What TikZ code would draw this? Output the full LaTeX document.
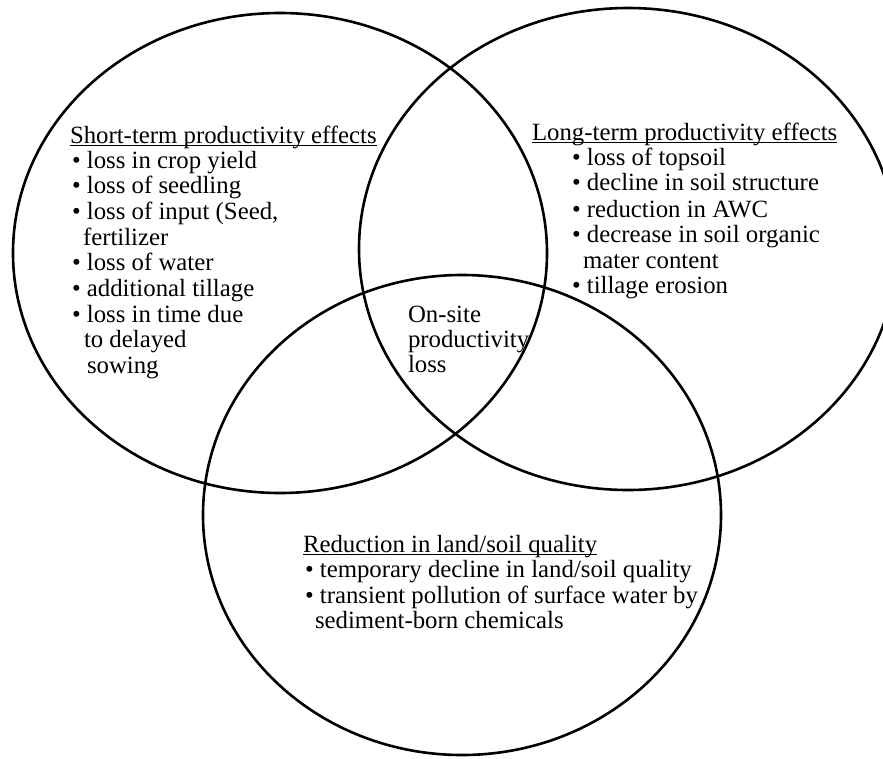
\documentclass[tikz,border=0pt]{standalone}
\usepackage{fontspec}
\setmainfont{Liberation Serif}
\begin{document}
\begin{tikzpicture}[x=1pt,y=-1pt,
  ring/.style={line width=2.6pt},
  txt/.style={anchor=base west,inner sep=0pt,outer sep=0pt,
    font=\fontsize{24.8}{25.6}\selectfont},
  uline/.style={line width=1.4pt}]
\useasboundingbox (0,0) rectangle (883,758);
\clip (0,0) rectangle (883,758);

% the three overlapping ellipses
\draw[ring] (280,253) ellipse [x radius=267pt, y radius=240pt];
\draw[ring] (628,249) ellipse [x radius=269pt, y radius=241pt];
\draw[ring] (462,515) ellipse [x radius=259pt, y radius=240pt];

% short-term effects (left)
\node[txt] (sh) at (70,143) {Short-term productivity effects};
\draw[uline] ([yshift=-2.6pt]sh.base west) -- ([yshift=-2.6pt]sh.base east);
\node[txt] (s1) at (72,168) {\textbullet\ loss in crop yield};
\node[txt] (s2) at (72,193) {\textbullet\ loss of seedling};
\node[txt] (s3) at (72,219) {\textbullet\ loss of input (Seed,};
\node[txt] (s4) at (83,245) {fertilizer};
\node[txt] (s5) at (72,270) {\textbullet\ loss of water};
\node[txt] (s6) at (72,296) {\textbullet\ additional tillage};
\node[txt] (s7) at (72,322) {\textbullet\ loss in time due};
\node[txt] (s8) at (84,347) {to delayed};
\node[txt] (s9) at (87,373) {sowing};

% long-term effects (right)
\node[txt] (lh) at (532,140) {Long-term productivity effects};
\draw[uline] ([yshift=-2.6pt]lh.base west) -- ([yshift=-2.6pt]lh.base east);
\node[txt] (l1) at (572,165) {\textbullet\ loss of topsoil};
\node[txt] (l2) at (572,190) {\textbullet\ decline in soil structure};
\node[txt] (l3) at (572,217) {\textbullet\ reduction in AWC};
\node[txt] (l4) at (572,242) {\textbullet\ decrease in soil organic};
\node[txt] (l5) at (583,268) {mater content};
\node[txt] (l6) at (572,293) {\textbullet\ tillage erosion};

% common core
\node[txt] (c1) at (408,322) {On-site};
\node[txt] (c2) at (408,347) {productivity};
\node[txt] (c3) at (408,372) {loss};

% land/soil quality (bottom)
\node[txt] (bh) at (303,552) {Reduction in land/soil quality};
\draw[uline] ([yshift=-2.6pt]bh.base west) -- ([yshift=-2.6pt]bh.base east);
\node[txt] (b1) at (305,577) {\textbullet\ temporary decline in land/soil quality};
\node[txt] (b2) at (305,603) {\textbullet\ transient pollution of surface water by};
\node[txt] (b3) at (315,628) {sediment-born chemicals};
\end{tikzpicture}
\end{document}
